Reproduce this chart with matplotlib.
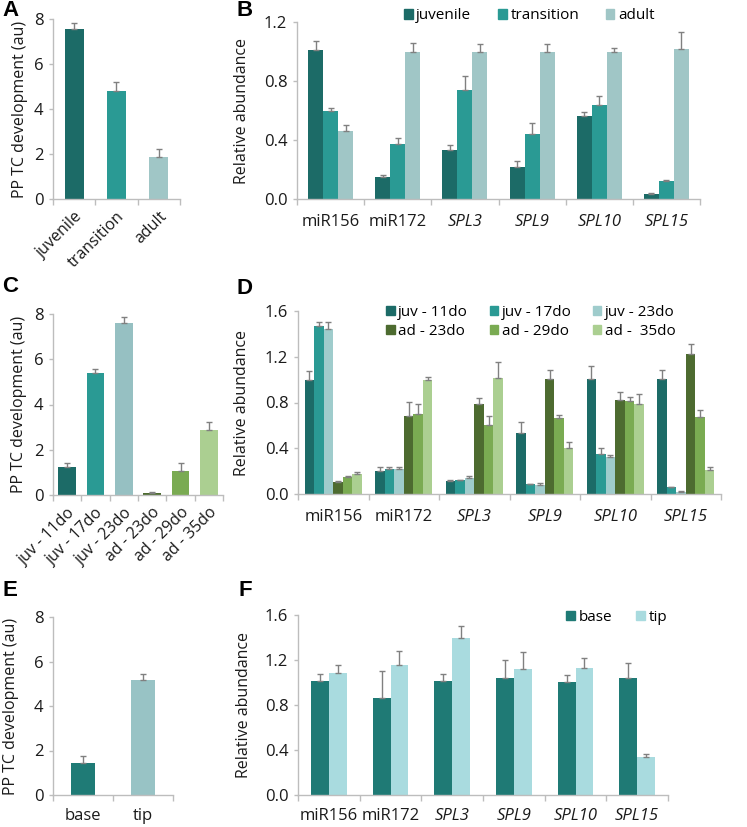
import matplotlib
matplotlib.use("Agg")
import matplotlib.pyplot as plt
import numpy as np
from matplotlib.patches import Patch

plt.rcParams['font.family'] = ['Open Sans', 'DejaVu Sans']

# ---- data ----
genes = ["miR156", "miR172", "SPL3", "SPL9", "SPL10", "SPL15"]
italic_genes = ["SPL3", "SPL9", "SPL10", "SPL15"]

# A
a_groups = ["juvenile", "transition", "adult"]
a_vals = [7.57, 4.79, 1.85]
a_err = [0.25, 0.40, 0.39]

# B
b_juv = [1.01, 0.15, 0.33, 0.22, 0.56, 0.036]
b_juv_err = [0.06, 0.015, 0.036, 0.036, 0.03, 0.007]
b_tra = [0.60, 0.37, 0.74, 0.44, 0.64, 0.12]
b_tra_err = [0.02, 0.043, 0.095, 0.075, 0.061, 0.007]
b_adu = [0.46, 1.00, 1.00, 1.00, 1.00, 1.02]
b_adu_err = [0.04, 0.06, 0.052, 0.052, 0.027, 0.11]

# C
c_groups = ["juv - 11do", "juv - 17do", "juv - 23do", "ad - 23do", "ad - 29do", "ad - 35do"]
c_vals = [1.22, 5.39, 7.60, 0.07, 1.06, 2.86]
c_err = [0.20, 0.20, 0.26, 0.07, 0.35, 0.38]

# D
d_labels = ["juv - 11do", "juv - 17do", "juv - 23do", "ad - 23do", "ad - 29do", "ad -  35do"]
d_juv11 = [1.00, 0.20, 0.114, 0.537, 1.007, 1.004]
d_juv11_err = [0.073, 0.033, 0.012, 0.091, 0.108, 0.079]
d_juv17 = [1.466, 0.219, 0.12, 0.085, 0.353, 0.058]
d_juv17_err = [0.038, 0.02, 0.005, 0.005, 0.047, 0.004]
d_juv23 = [1.442, 0.222, 0.14, 0.079, 0.324, 0.02]
d_juv23_err = [0.062, 0.017, 0.015, 0.014, 0.015, 0.006]
d_ad23 = [0.102, 0.683, 0.791, 1.004, 0.823, 1.22]
d_ad23_err = [0.01, 0.123, 0.047, 0.082, 0.067, 0.091]
d_ad29 = [0.149, 0.698, 0.604, 0.663, 0.815, 0.672]
d_ad29_err = [0.006, 0.087, 0.079, 0.026, 0.035, 0.061]
d_ad35 = [0.175, 0.998, 1.013, 0.403, 0.785, 0.21]
d_ad35_err = [0.018, 0.024, 0.14, 0.05, 0.088, 0.024]

# E
e_groups = ["base", "tip"]
e_vals = [1.43, 5.16]
e_err = [0.32, 0.27]

# F
f_base = [1.009, 0.864, 1.009, 1.044, 1.003, 1.038]
f_base_err = [0.071, 0.236, 0.071, 0.154, 0.065, 0.136]
f_tip = [1.082, 1.156, 1.399, 1.121, 1.127, 0.337]
f_tip_err = [0.077, 0.122, 0.101, 0.154, 0.089, 0.03]

# colours
teal_dark = "#1c6b67"
teal_mid = "#2a9a94"
teal_light = "#a0c6c6"
olive = "#4d6b30"
green = "#7aab52"
green_light = "#abcf91"

SPINE = "#bdbdbd"
ECOL = "#808080"
TXT = "#1a1a1a"
FS_TICK = 12
FS_LAB = 11.5
FS_LEG = 11

fig = plt.figure(figsize=(7.47, 8.27), dpi=100)
W, H = 747, 827


def add_ax(l, r, t, b):
    return fig.add_axes([l / W, 1 - b / H, (r - l) / W, (b - t) / H])


def style(ax, n, ymax, ystep, fmt, ylabel, labels, rot=False, pad=11):
    ax.set_xlim(-0.5, n - 0.5)
    ax.set_ylim(0, ymax)
    for s in ["top", "right"]:
        ax.spines[s].set_visible(False)
    for s in ["left", "bottom"]:
        ax.spines[s].set_color(SPINE)
        ax.spines[s].set_linewidth(1.0)
    ticks = np.arange(0, ymax + 1e-9, ystep)
    ax.set_yticks(ticks)
    ax.set_yticklabels([fmt.format(v) for v in ticks], fontsize=FS_TICK, color=TXT)
    ax.tick_params(axis='y', length=3, color=SPINE, width=1, pad=4)
    ax.set_xticks(np.arange(-0.5, n, 1.0))
    ax.set_xticklabels([])
    ax.tick_params(axis='x', which='major', length=4, color=SPINE, width=1)
    ax.set_xticks(np.arange(n), minor=True)
    if rot:
        ax.set_xticklabels(labels, minor=True, rotation=45, ha='right',
                           rotation_mode='anchor', fontsize=FS_TICK - 0.5, color=TXT)
        ax.tick_params(axis='x', which='minor', length=0, pad=7)
    else:
        ax.set_xticklabels(labels, minor=True, fontsize=FS_TICK, color=TXT)
        ax.tick_params(axis='x', which='minor', length=0, pad=pad)
    for t in ax.get_xticklabels(minor=True):
        if t.get_text() in italic_genes:
            t.set_fontstyle('italic')
    ax.set_ylabel(ylabel, fontsize=FS_LAB, color=TXT)


def bars(ax, x, vals, err, color, width):
    ax.bar(x, vals, width=width, color=color, zorder=2)
    ax.errorbar(x, vals, yerr=[np.zeros(len(vals)), err], fmt='none',
                ecolor=ECOL, elinewidth=1.0, capsize=2.5, capthick=1.0, zorder=3)


leg_kw = dict(frameon=False, fontsize=FS_LEG, handlelength=0.55, handleheight=0.55,
              handletextpad=0.25, borderaxespad=0)

# ---- A ----
axA = add_ax(53, 180, 19, 199)
xa = np.arange(len(a_groups))
for i in range(len(a_groups)):
    bars(axA, [xa[i]], [a_vals[i]], [a_err[i]], [teal_dark, teal_mid, teal_light][i], 0.45)
style(axA, 3, 8, 2, "{:.0f}", "PP TC development (au)", a_groups, rot=True)
axA.yaxis.set_label_coords(-0.197, 0.5)

# ---- B ----
axB = add_ax(297, 700, 22, 199)
xb = np.arange(len(genes))
wb = 0.223
bars(axB, xb - wb, b_juv, b_juv_err, teal_dark, wb)
bars(axB, xb, b_tra, b_tra_err, teal_mid, wb)
bars(axB, xb + wb, b_adu, b_adu_err, teal_light, wb)
style(axB, 6, 1.2, 0.4, "{:.1f}", "Relative abundance", genes)
axB.yaxis.set_label_coords(-0.117, 0.5)
axB.legend(handles=[Patch(color=teal_dark, label="juvenile"),
                    Patch(color=teal_mid, label="transition"),
                    Patch(color=teal_light, label="adult")],
           ncol=3, columnspacing=1.75, loc='center left',
           bbox_to_anchor=((398 - 297) / (700 - 297), 1.035), **leg_kw)

# ---- C ----
axC = add_ax(53, 223, 314, 495)
xc = np.arange(len(c_groups))
c_cols = [teal_dark, teal_mid, "#96c0c2", olive, green, green_light]
for i in range(len(c_groups)):
    bars(axC, [xc[i]], [c_vals[i]], [c_err[i]], c_cols[i], 0.63)
style(axC, 6, 8, 2, "{:.0f}", "PP TC development (au)", c_groups, rot=True)
axC.yaxis.set_label_coords(-0.155, 0.5)

# ---- D ----
axD = add_ax(298, 721, 311, 494)
xd = np.arange(len(genes))
wd = 0.135
d_series = [(d_juv11, d_juv11_err, teal_dark), (d_juv17, d_juv17_err, teal_mid),
            (d_juv23, d_juv23_err, "#9fcccc"), (d_ad23, d_ad23_err, olive),
            (d_ad29, d_ad29_err, green), (d_ad35, d_ad35_err, green_light)]
for k, (v, e, c) in enumerate(d_series):
    bars(axD, xd + (k - 2.5) * wd, v, e, c, wd)
style(axD, 6, 1.6, 0.4, "{:.1f}", "Relative abundance", genes)
axD.yaxis.set_label_coords(-0.113, 0.5)
d_handles = [Patch(color=c, label=l) for (v, e, c), l in zip(d_series, d_labels)]
order = [0, 3, 1, 4, 2, 5]
axD.legend(handles=[d_handles[i] for i in order], ncol=3, columnspacing=1.4,
           labelspacing=0.25, loc='upper left',
           bbox_to_anchor=((380 - 298) / (721 - 298), 1.065), **leg_kw)

# ---- E ----
axE = add_ax(53, 173, 617, 795)
xe = np.arange(len(e_groups))
for i in range(len(e_groups)):
    bars(axE, [xe[i]], [e_vals[i]], [e_err[i]], ["#1f7b76", "#98c3c5"][i], 0.4)
style(axE, 2, 8, 2, "{:.0f}", "PP TC development (au)", e_groups, pad=9)
axE.yaxis.set_label_coords(-0.28, 0.5)

# ---- F ----
axF = add_ax(298, 668, 615, 795)
xf = np.arange(len(genes))
wf = 0.29
bars(axF, xf - wf / 2, f_base, f_base_err, "#1f7a75", wf)
bars(axF, xf + wf / 2, f_tip, f_tip_err, "#a9dbdf", wf)
style(axF, 6, 1.6, 0.4, "{:.1f}", "Relative abundance", genes, pad=9)
axF.yaxis.set_label_coords(-0.124, 0.5)
axF.legend(handles=[Patch(color="#1f7a75", label="base"), Patch(color="#a9dbdf", label="tip")],
           ncol=2, columnspacing=1.6, loc='center left',
           bbox_to_anchor=((560 - 298) / (668 - 298), 0.985), **leg_kw)

# panel letters
for lab, x, y in [("A", 2, 11), ("B", 237, 11), ("C", 2, 287), ("D", 237, 289),
                  ("E", 2, 591), ("F", 238, 590)]:
    fig.text(x / W, 1 - y / H, lab, fontsize=16, fontweight='bold',
             family='Liberation Sans', va='center', ha='left')

fig.savefig("out.png", dpi=100)
